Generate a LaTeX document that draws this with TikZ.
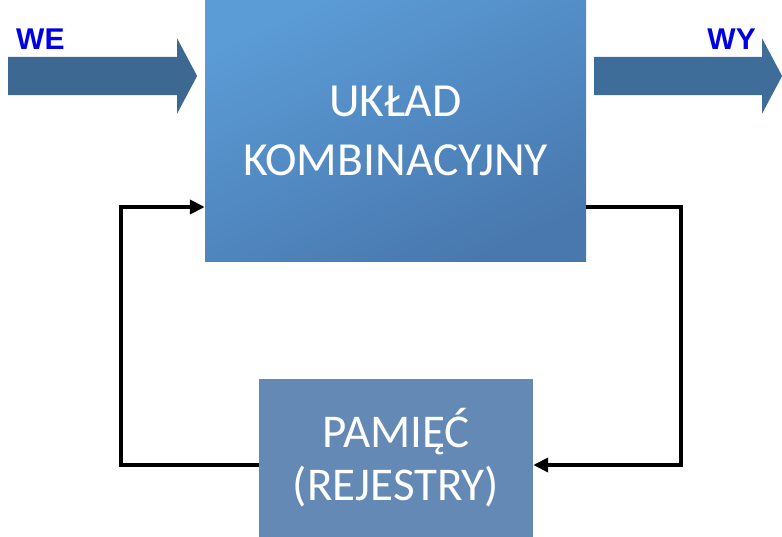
\documentclass[tikz,border=0pt]{standalone}
\usepackage{fontspec}
\setmainfont{Carlito}
\newfontfamily\arialfont{Liberation Sans}
\usetikzlibrary{shapes.arrows, arrows.meta, positioning}

\definecolor{blokjasny}{HTML}{5B9BD6}
\definecolor{blokciemny}{HTML}{4878AE}
\definecolor{pamiec}{HTML}{6489B5}
\definecolor{strzalka}{HTML}{3C6892}
\definecolor{napis}{HTML}{0000E6}

\begin{document}
\begin{tikzpicture}[
    x=1pt, y=-1pt,
    blok/.style={
        rectangle, inner sep=0pt,
        text=white, align=center,
        font=\fontsize{47.5}{59}\selectfont
    },
    wielka/.style={
        single arrow, fill=strzalka, draw=none,
        text height=38pt, text depth=0pt, text width=0pt,
        minimum width=75pt, single arrow head extend=18.5pt,
        single arrow tip angle=124, inner sep=0pt
    },
    etykieta/.style={font=\arialfont\bfseries\fontsize{30}{30}\selectfont, text=napis, inner sep=0pt},
    fb/.style={line width=4pt, line join=miter},
    fbarrow/.style={fb, -{Triangle[length=15pt,width=14pt]}},
]
\useasboundingbox (0,0) rectangle (782,537);

% Bloki
\node[blok, minimum width=381pt, minimum height=262pt,
      shading=axis, top color=blokjasny, bottom color=blokciemny, shading angle=25]
    (uklad) at (395.5,131) {UKŁAD\\KOMBINACYJNY};
\node[blok, minimum width=274pt, minimum height=158pt, fill=pamiec,
      font=\fontsize{47}{53}\selectfont]
    (pamiec) at (396,458) {PAMIĘĆ\\(REJESTRY)};

% Strzalki wejscia i wyjscia
\node[wielka, minimum height=189pt] (we) at (97.5,76) {};
\node[wielka, minimum height=188pt, fill=strzalka!90!blokjasny] (wy) at (683,76) {};
\node[etykieta, anchor=base west] (welab) at (16,50) {WE};
\node[etykieta, anchor=base east] (wylab) at (756,50) {WY};

% Sprzezenie zwrotne
\draw[fbarrow] ([yshift=-7pt]pamiec.west) -- ++(-138pt,0) |- ([yshift=-76pt]uklad.west);
\draw[fbarrow] ([yshift=-76pt]uklad.east) -- ++(95pt,0) |- ([yshift=-7pt]pamiec.east);

\end{tikzpicture}
\end{document}
